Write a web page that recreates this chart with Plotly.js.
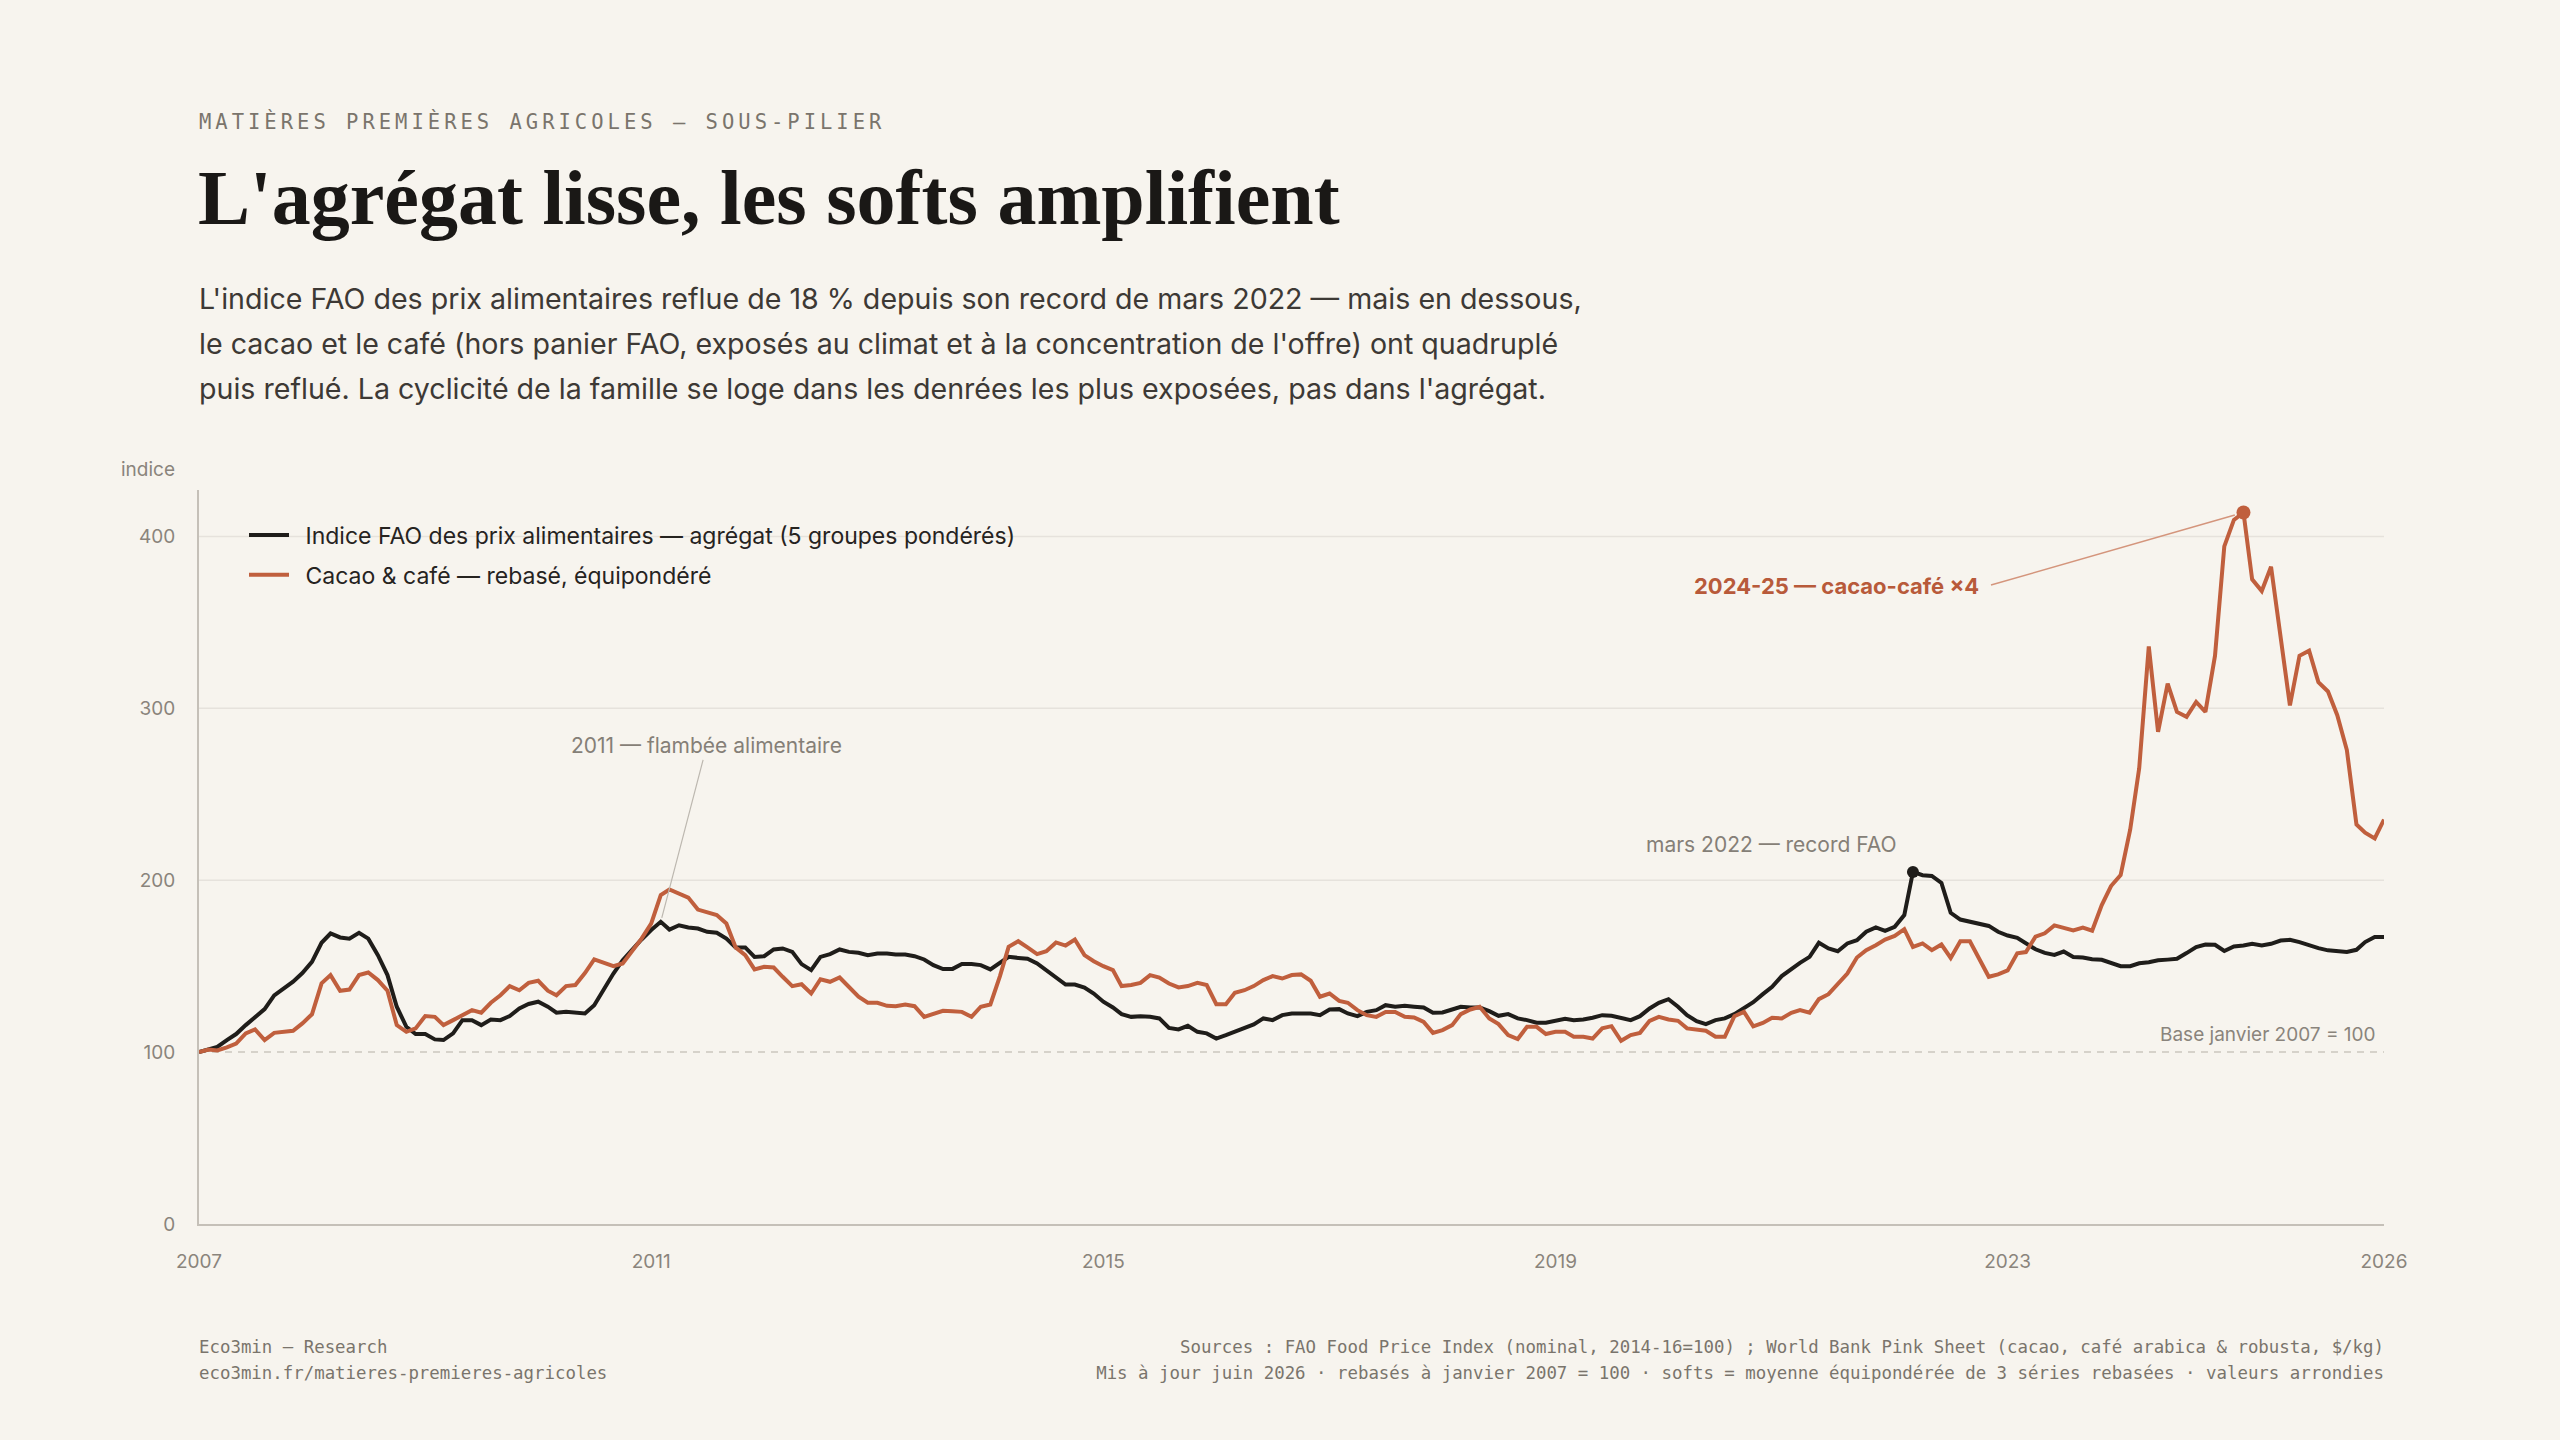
<!DOCTYPE html>
<html lang="fr">
<head>
<meta charset="utf-8">
<title>L'agrégat lisse, les softs amplifient</title>
<script src="https://cdn.plot.ly/plotly-3.0.1.min.js"></script>
<style>
  html, body { margin: 0; padding: 0; background: #f7f4ee; }
  body { width: 2560px; height: 1440px; position: relative; overflow: hidden; }
  #plot { position: absolute; left: 0; top: 0; width: 2560px; height: 1440px; }
  .txt { position: absolute; white-space: nowrap; z-index: 2; pointer-events: none; }
  #eyebrow { left: 199px; top: 110px; font: 20.5px/24px "DejaVu Sans Mono", monospace; letter-spacing: 4px; color: #7a746c; }
  #title { left: 198px; top: 159px; font: bold 78px/78px "Liberation Serif", serif; color: #1a1816; }
  #dek { left: 199px; top: 276px; font: 28.6px/45px Inter, sans-serif; color: #3d3935; }
  .foot { top: 1334px; font: 17.4px/26px "DejaVu Sans Mono", monospace; color: #7a746c; }
  #footL { left: 199px; }
  #footR { right: 176px; text-align: right; }
</style>
</head>
<body>
<div id="plot"></div>
<div class="txt" id="eyebrow">MATIÈRES PREMIÈRES AGRICOLES — SOUS-PILIER</div>
<div class="txt" id="title">L'agrégat lisse, les softs amplifient</div>
<div class="txt" id="dek">L'indice FAO des prix alimentaires reflue de 18 % depuis son record de mars 2022 — mais en dessous,<br>le cacao et le café (hors panier FAO, exposés au climat et à la concentration de l'offre) ont quadruplé<br>puis reflué. La cyclicité de la famille se loge dans les denrées les plus exposées, pas dans l'agrégat.</div>
<div class="txt foot" id="footL">Eco3min — Research<br>eco3min.fr/matieres-premieres-agricoles</div>
<div class="txt foot" id="footR">Sources : FAO Food Price Index (nominal, 2014-16=100) ; World Bank Pink Sheet (cacao, café arabica &amp; robusta, $/kg)<br>Mis à jour juin 2026 · rebasés à janvier 2007 = 100 · softs = moyenne équipondérée de 3 séries rebasées · valeurs arrondies</div>

<script>
// monthly series, janvier 2007 = 100
var startYear = 2007;

var fao = [
  100, 101.5, 103, 107, 110.5, 115.7, 120, 125, 133, 137, 141, 146,
  152.5, 163.6, 169, 166.7, 166, 169.4, 166, 156.4, 144.8, 126.4, 114.7, 110.5,
  110.5, 107.4, 107, 110.9, 118.6, 118.6, 115.7, 119, 118.6, 121, 125.4, 128,
  129.3, 126.4, 122.9, 123.4, 122.9, 122.5, 127.3, 137, 145.7, 153.5, 159.7, 165.5,
  171, 175.8, 171.3, 173.8, 172.5, 171.9, 170, 169.4, 166, 160.9, 160.9, 155.4,
  155.8, 159.7, 160.3, 158.3, 151.2, 147.7, 155.4, 157, 159.7, 158.3, 157.8, 156.4,
  157.4, 157.4, 156.8, 156.8, 155.8, 153.9, 150.6, 148.3, 148.4, 151.2, 151.2, 150.6,
  148.1, 151.6, 155.4, 154.8, 154.3, 151.6, 147.7, 143.4, 139.3, 139.3, 137.6, 134.1,
  129.3, 126, 122.1, 120.5, 120.9, 120.5, 119.6, 114.1, 113.2, 115.3, 111.8, 110.9,
  107.9, 109.9, 111.8, 113.8, 116.1, 119.6, 118.6, 121.5, 122.5, 122.5, 122.5, 121.5,
  124.8, 125, 122.5, 120.9, 123.4, 124.4, 127.3, 126.4, 126.9, 126.4, 126, 122.9,
  123.1, 124.8, 126.4, 126, 126, 123.8, 121.1, 122.1, 119.6, 118.6, 117.1, 117.1,
  118.2, 119.4, 118.6, 119, 120, 121.5, 121.1, 119.6, 118.6, 120.9, 125.4, 128.7,
  130.8, 126.4, 121.5, 118, 116.3, 118.6, 119.6, 122.1, 125.4, 129, 133.7, 138,
  144.2, 148.6, 151.9, 155.4, 163.6, 160.3, 158.7, 163.2, 165.1, 170, 172.5, 170.5,
  172.9, 179.7, 204.8, 202.9, 202.5, 198.4, 181, 177.1, 175.8, 174.4, 173.4, 170,
  167.8, 166.5, 163.4, 159.8, 157.7, 156.5, 158.5, 155.3, 155, 154, 153.7, 151.7,
  150, 150, 151.7, 152.3, 153.4, 153.8, 154.3, 157.6, 161.1, 162.6, 162.4, 158.8,
  161.5, 162, 163, 162, 163, 164.9, 165.3, 164, 162, 160.5, 159.2, 158.6,
  158.2, 159.5, 164, 166.9, 166.9
];

var softs = [
  100, 101.5, 101, 102.7, 105, 110.9, 113.2, 107, 111.2, 111.8, 112.4, 116.7,
  122, 140, 144.8, 135.7, 136.4, 144.8, 146.3, 141.9, 135.7, 115.7, 111.8, 113.8,
  121, 120.5, 115.7, 118.6, 121.5, 124.4, 122.9, 128.7, 133.1, 138.4, 136, 140.3,
  141.5, 135.7, 133.1, 138.4, 139, 146, 153.9, 151.9, 150, 151.6, 159.3, 166,
  174.8, 191.3, 194.6, 192.2, 189.9, 182.9, 181.6, 179.7, 174.8, 160.9, 156.4, 148.1,
  149.6, 149.2, 143.8, 138.4, 139.5, 134.1, 142.4, 140.9, 143.4, 138, 132.2, 128.7,
  128.7, 126.9, 126.7, 127.7, 126.7, 120.5, 122.5, 124, 123.8, 123.4, 120.5, 126.4,
  127.7, 144.2, 161.2, 164.5, 160.9, 157, 158.7, 163.8, 162, 165.5, 156.4, 152.9,
  150, 147.7, 138.4, 139, 140.3, 144.8, 143.4, 139.9, 137.6, 138.4, 140.3, 139,
  127.9, 127.9, 134.5, 136, 138.4, 141.9, 144.2, 142.8, 144.8, 145.2, 141.5, 132.2,
  134.1, 129.8, 128.7, 124.4, 121.5, 120.5, 123.4, 123.4, 120.5, 120.2, 117.6, 111.2,
  112.8, 115.7, 122.1, 124.8, 126.4, 119.6, 116.3, 109.9, 107.6, 114.7, 114.7, 110.5,
  111.8, 111.8, 108.9, 108.9, 107.9, 113.8, 115.1, 106.6, 109.9, 111.2, 118.2, 120.5,
  119, 118.2, 113.8, 112.8, 112.4, 108.9, 108.9, 120.9, 123.4, 115, 117, 120,
  119.6, 122.9, 124.4, 122.9, 130.8, 133.7, 139.5, 145.7, 155, 159.3, 162.2, 165.5,
  167.6, 171.5, 161.2, 163.2, 159.3, 162.6, 154.8, 164.5, 164.5, 154.1, 143.8, 145.2,
  147.5, 157.5, 158.2, 167.2, 169.1, 173.7, 172.4, 170.8, 172.4, 170.6, 185.5, 196.6,
  203, 229.5, 265.1, 336, 286.3, 314.3, 297.9, 295, 303.7, 297.9, 330.6, 394.2,
  409.6, 413.9, 375, 368.2, 382.3, 342.2, 301.7, 330.6, 333.5, 315.2, 309.8, 296,
  275.7, 232.4, 227.6, 224.3, 235.3
];

var yTicks = [0, 100, 200, 300, 400];
var gridLevels = [200, 300, 400];
var baseLevel = 100;
var xTickYears = [2007, 2011, 2015, 2019, 2023];
var lastLabel = '2026';

var RED = '#c05f3d';
var INK = '#1f1d1a';

// month axis
var months = fao.map(function (v, i) {
  var y = startYear + Math.floor(i / 12);
  var m = (i % 12) + 1;
  return y + '-' + (m < 10 ? '0' : '') + m + '-01';
});
var last = months.length - 1;

var faoPeak = fao.indexOf(Math.max.apply(null, fao));
var softPeak = softs.indexOf(Math.max.apply(null, softs));

var tickVals = xTickYears.map(function (y) { return y + '-01-01'; }).concat([months[last]]);
var tickText = xTickYears.map(String).concat([lastLabel]);

var gap = '\u2002'; // a bit more room between legend line and label

var traceFao = {
  x: months, y: fao,
  name: gap + 'Indice FAO des prix alimentaires — agrégat (5 groupes pondérés)',
  legendgroup: 'fao',
  type: 'scatter', mode: 'lines',
  line: {color: INK, width: 4}
};

var traceSofts = {
  x: months, y: softs,
  name: gap + 'Cacao &amp; café — rebasé, équipondéré',
  legendgroup: 'softs',
  type: 'scatter', mode: 'lines',
  line: {color: RED, width: 4}
};

var dotFao = {
  x: [months[faoPeak]], y: [fao[faoPeak]],
  type: 'scatter', mode: 'markers', showlegend: false,
  marker: {color: INK, size: 12}
};

var dotSofts = {
  x: [months[softPeak]], y: [softs[softPeak]],
  type: 'scatter', mode: 'markers', showlegend: false,
  marker: {color: RED, size: 14}
};

var data = [traceFao, traceSofts, dotFao, dotSofts];

var axisGrey = '#8a847c';

// grid as shapes so the base line can be dashed alone
var shapes = gridLevels.map(function (v) {
  return {type: 'line', xref: 'paper', x0: 0, x1: 1, yref: 'y', y0: v, y1: v,
          layer: 'below', line: {color: '#e6e2dc', width: 1.5}};
});
shapes.push({type: 'line', xref: 'paper', x0: 0, x1: 1, yref: 'y', y0: baseLevel, y1: baseLevel,
             layer: 'below', line: {color: '#cbc6bf', width: 1.5, dash: '7px,6px'}});

var layout = {
  width: 2560, height: 1440,
  paper_bgcolor: 'rgba(0,0,0,0)',
  plot_bgcolor: 'rgba(0,0,0,0)',
  margin: {l: 199, r: 176, t: 490, b: 216},
  font: {family: 'Inter, sans-serif', size: 19, color: axisGrey},
  hovermode: false,
  showlegend: true,
  legend: {
    x: 0.0206, y: 0.968, xanchor: 'left', yanchor: 'top',
    bgcolor: 'rgba(0,0,0,0)', itemwidth: 40,
    traceorder: 'grouped', tracegroupgap: 7,
    font: {size: 23, color: '#26231f'}
  },
  xaxis: {
    type: 'date',
    range: [months[0], months[last]],
    tickvals: tickVals, ticktext: tickText,
    showgrid: false, zeroline: false,
    showline: true, linecolor: '#c5c0b8', linewidth: 2,
    ticks: '', ticklabelstandoff: 19,
    tickfont: {size: 19, color: axisGrey},
    fixedrange: true
  },
  yaxis: {
    range: [0, 427],
    tickvals: yTicks,
    showgrid: false,
    zeroline: false,
    showline: true, linecolor: '#c5c0b8', linewidth: 2,
    ticks: '', ticklabelstandoff: 18,
    tickfont: {size: 19, color: axisGrey},
    fixedrange: true
  },
  shapes: shapes,
  annotations: [
    {
      xref: 'paper', yref: 'paper', x: 0, y: 1,
      xanchor: 'right', yanchor: 'bottom', xshift: -22, yshift: 7,
      text: 'indice', showarrow: false,
      font: {size: 19, color: axisGrey}
    },
    {
      x: months[49], y: fao[49],
      text: '2011 — flambée alimentaire',
      showarrow: true, arrowhead: 0, arrowwidth: 1.2, arrowcolor: '#bdb8b0',
      axref: 'pixel', ayref: 'pixel', ax: 46, ay: -176, standoff: 4,
      font: {size: 21, color: '#857f77'}
    },
    {
      x: months[faoPeak], y: fao[faoPeak],
      text: 'mars 2022 — record FAO',
      showarrow: false, xanchor: 'right', yanchor: 'bottom',
      xshift: -14, yshift: 13,
      font: {size: 21, color: '#857f77'}
    },
    // leader line from the label's right end to the cocoa-coffee peak
    {
      x: months[softPeak], y: softs[softPeak],
      text: '', showarrow: true, arrowhead: 0,
      arrowwidth: 1.5, arrowcolor: '#d4957c',
      ax: -254, ay: 73, standoff: 9
    },
    {
      x: months[softPeak], y: softs[softPeak],
      text: '<b>2024-25 — cacao-café ×4</b>',
      showarrow: false, xanchor: 'right', yanchor: 'middle',
      xshift: -262, yshift: -73,
      font: {size: 22, color: '#b85a3a'}
    },
    {
      xref: 'paper', x: 1, y: 100,
      xanchor: 'right', yanchor: 'bottom', xshift: -6, yshift: 4,
      text: 'Base janvier 2007 = 100', showarrow: false,
      font: {size: 19, color: axisGrey}
    }
  ]
};

Plotly.newPlot('plot', data, layout, {displayModeBar: false, staticPlot: true});
</script>
</body>
</html>
